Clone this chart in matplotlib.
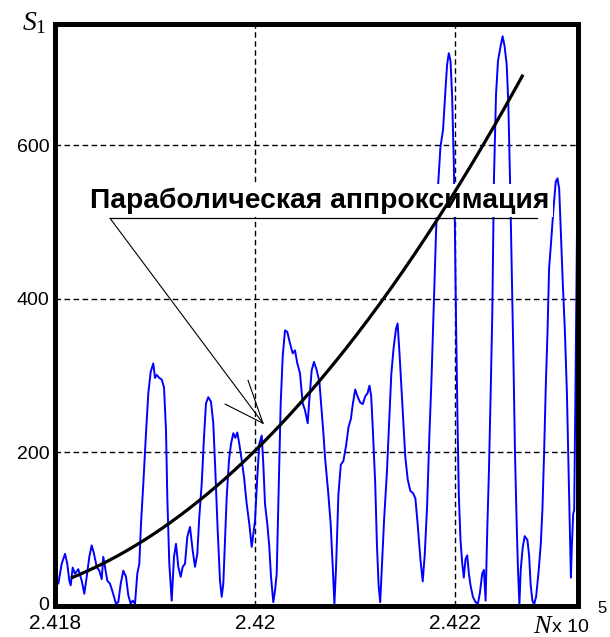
import numpy as np
import matplotlib
matplotlib.use("Agg")
import matplotlib.pyplot as plt
from matplotlib.transforms import ScaledTranslation

plt.rcParams['mathtext.fontset'] = 'custom'
plt.rcParams['mathtext.rm'] = 'Liberation Serif'
plt.rcParams['mathtext.it'] = 'Liberation Serif:italic'

# N offset from 241800 and the measured S1 signal
dn = [1, 3.3, 6.7, 10, 12.3, 14.3, 15.7, 17.7, 20, 23.3, 26.7, 29.3, 31.7, 34.3, 36.7, 39, 41.7, 44.3,
      46.7, 48.3, 50, 52.3, 55, 57.7, 61, 63.3, 65.7, 68.3, 71, 73.3, 75.7, 77.7, 80, 82.3, 84.3, 86,
      88.3, 91, 93.3, 95.7, 98.3, 100, 101.7, 104.3, 106.7, 109, 111, 112.3, 114.3, 116.7, 119, 121,
      123.3, 125.7, 127.7, 130, 132.3, 135, 137.7, 140, 142.3, 144.3, 146.7, 149, 151, 153.3, 156,
      158.3, 160.3, 162.7, 165, 166.7, 168.3, 170, 171.7, 174, 176, 178.3, 180.3, 182.3, 184.3, 186.7,
      189, 191.7, 194.3, 196.7, 198.3, 200, 202.3, 204.3, 206.7, 208.3, 210, 212.3, 214.3, 216, 218.3,
      220, 221.7, 222.7, 224, 225.7, 227.7, 230, 232.3, 235, 237.7, 240, 242.3, 245, 247.7, 250, 252.7,
      254.3, 256.7, 259, 261.7, 264.4, 266.7, 268.4, 270, 271.7, 273.4, 275.7, 277.7, 279.4, 281.1,
      283.4, 285.8, 288.4, 291.1, 293.5, 295.8, 297.8, 300.2, 302.5, 305.2, 307.8, 310.2, 312.5, 314.5,
      316.2, 317.9, 320.2, 321.9, 323.6, 325.2, 326.9, 329.2, 331.9, 334.3, 336.3, 338.6, 341, 342.6,
      344.6, 346.3, 348, 350.3, 352.7, 355.3, 358, 360.4, 362.7, 365.4, 367.7, 369.7, 372.1, 374.4,
      376.4, 378.7, 381.1, 383.1, 385.4, 388.1, 390.5, 392.1, 393.8, 395.5, 397.1, 398.8, 399.8, 401.2,
      402.5, 403.8, 405.5, 407.2, 408.8, 410.5, 412.2, 413.9, 415.5, 417.9, 420.6, 422.9, 424.9, 427.2,
      428.9, 430.6, 432.3, 433.9, 435.6, 437.3, 438.9, 441, 443, 445.6, 447.6, 449.6, 451.7, 453.3,
      455, 456.7, 458.3, 460, 461.7, 463, 464.4, 465.7, 467.7, 469.7, 472.4, 474.1, 475.7, 477.4,
      479.1, 481.1, 483.4, 485.8, 487.4, 489.1, 490.8, 492.5, 494.1, 495.8, 498.5, 500.8, 502.5, 504.2,
      505.8, 507.8, 509.8, 511.9, 513.2, 514.5, 515.9, 516.9, 518.2, 519.2, 520.6, 522, 524]
s1 = [38, 29, 55, 68, 55, 33, 27, 50, 42, 48, 33, 16, 38, 64, 79, 68, 51, 46,
      35, 64, 51, 33, 29, 18, 3, 5, 29, 46, 38, 14, 3, 7, 3, 42, 55, 107,
      159, 225, 277, 305, 316, 297, 301, 297, 295, 285, 229, 142, 55, 7, 64, 81,
      51, 38, 51, 55, 90, 103, 72, 51, 68, 116, 159, 220, 264, 272, 266,
      238, 177, 98, 33, 12, 29, 85, 142, 190, 211, 225, 219, 226, 211, 190,
      168, 133, 107, 77, 94, 111, 168, 211, 222, 185, 133, 107, 77, 38, 5,
      20, 42, 98, 168, 264, 325, 359, 357, 342, 329, 333, 316, 303, 264, 255, 238,
      268, 307, 318, 307, 292, 253, 225, 194, 169, 145, 106, 52, 3, 52,
      145, 184, 189, 209, 233, 243, 263, 282, 273, 265, 263, 273, 277, 287,
      273, 228, 160, 81, 27, 5, 52, 115, 174, 243, 302, 336, 361, 368,
      327, 287, 248, 194, 165, 150, 147, 140, 106, 61, 32, 66, 130, 223,
      292, 390, 489, 548, 597, 621, 673, 705, 720, 710, 665, 577, 500, 356,
      243, 145, 86, 56, 37, 61, 66, 42, 27, 12, 5, 3, 17, 42,
      47, 7, 101, 174, 273, 381, 553, 666, 710, 729, 742, 729, 705, 656,
      557, 444, 331, 199, 106, 47, 2, 47, 76, 91, 86, 66, 27, 7,
      2, 12, 42, 81, 125, 199, 287, 356, 440, 469, 518, 553, 557, 543,
      489, 420, 361, 278, 199, 115, 37, 80, 120, 125, 300, 490, 520]

# parabolic approximation S = a*u^2 + b*u + c, u = (N - 241800)/100
approx_coef = [20.49, 45.84, 28.6]
approx_span = [16, 468]

label_text = "Параболическая аппроксимация"

fig = plt.figure(figsize=(6.10, 6.37), dpi=100)
ax = fig.add_axes([55 / 610, 31 / 637, 523 / 610, 582 / 637])

x = (241800 + np.array(dn)) / 1e5
ax.plot(x, s1, color='#0000ff', lw=1.4, zorder=2)

u = np.linspace(approx_span[0], approx_span[1], 200)
ax.plot((241800 + u) / 1e5, np.polyval(approx_coef, u / 100), color='black', lw=2.3, zorder=5,
        solid_capstyle='butt')

ax.set_xlim(2.418, 2.42323)
ax.set_ylim(0, 758)
ax.set_xticks([2.418, 2.42, 2.422])
ax.set_xticklabels(["2.418", "2.42", "2.422"], fontsize=15, family='Liberation Sans')
ax.set_yticks([0, 200, 400, 600])
ax.set_yticklabels(["0", "200", "400", "600"], fontsize=14, family='Liberation Sans')
ax.tick_params(length=0, pad=4)
ax.tick_params(axis='x', pad=6)
ax.grid(True, color='black', lw=1.0, ls=(0, (4, 2.5)))
ax.set_axisbelow(True)
for sp in ax.spines.values():
    sp.set_linewidth(3.6)
    sp.set_zorder(10)

# lift the "0" label a little so it clears "2.418"
zero_lbl = ax.get_yticklabels()[0]
zero_lbl.set_transform(zero_lbl.get_transform() + ScaledTranslation(0, 3 / 100, fig.dpi_scale_trans))

def pt(n, v):
    return ((241800 + n) / 1e5, v)

# label with white backing, underline and arrow to the curve
ax.text(*pt(35, 519), label_text, fontsize=20.3, fontweight='bold', family='Liberation Sans',
        va='baseline', ha='left', zorder=4,
        bbox=dict(boxstyle='square,pad=0.12', fc='white', ec='none'))
ax.plot(*zip(pt(55, 505), pt(482, 505)), color='black', lw=0.9, zorder=4)
tip = pt(208, 238)
for start in (pt(55, 505), pt(193, 294), pt(170, 263)):
    ax.annotate('', xy=tip, xytext=start,
                arrowprops=dict(arrowstyle='-', color='black', lw=0.8, shrinkA=0, shrinkB=0),
                zorder=4)

fig.text(22 / 610, (637 - 30) / 637, r'$S_1$', fontsize=20, va='baseline', ha='left')
fig.text(533 / 610, (637 - 633) / 637, 'N', fontsize=19, family='Liberation Serif',
         style='italic', va='baseline', ha='left')
fig.text(552 / 610, (637 - 632) / 637, 'x 10', fontsize=14, family='Liberation Sans',
         va='baseline', ha='left')
fig.text(597 / 610, (637 - 613) / 637, '5', fontsize=12, family='Liberation Sans',
         va='baseline', ha='left')

fig.savefig("out.png", dpi=100)
